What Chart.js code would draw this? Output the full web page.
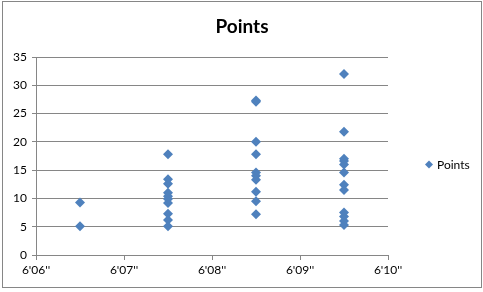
<!DOCTYPE html>
<html>
<head>
<meta charset="utf-8">
<script src="https://cdn.jsdelivr.net/npm/chart.js@4/dist/chart.umd.min.js"></script>
<style>
  html, body { margin: 0; padding: 0; background: #fff; }
  #wrap { position: relative; width: 483px; height: 292px; }
</style>
</head>
<body>
<div id="wrap"><canvas id="chartPoints" width="483" height="292"></canvas></div>
<script>
// x positions (inches above 6'), one per group of points
const heights = [6.5, 7.5, 8.5, 9.5];
const pts6 = [9.3, 5.1];
const pts7 = [17.8, 13.4, 12.6, 11.0, 10.4, 9.9, 9.2, 7.3, 6.2, 5.1];
const pts8 = [27.3, 27.1, 20.0, 17.8, 14.6, 14.0, 13.3, 11.2, 9.5, 7.2];
const pts9 = [32.0, 21.8, 17.0, 16.6, 16.0, 14.6, 12.4, 11.5, 7.5, 6.8, 6.0, 5.3];
const groups = [pts6, pts7, pts8, pts9];
const xTickLabels = ["6'06''", "6'07''", "6'08''", "6'09''", "6'10''"];
const yTicks = [0, 5, 10, 15, 20, 25, 30, 35];
const chartTitle = "Points";

const blue = "#4F81BD";
const gray = "#868686";
const font = "Lato, 'Open Sans', sans-serif";

const scatterData = [];
groups.forEach((g, i) => {
  g.forEach(v => scatterData.push({ x: heights[i], y: v }));
});

// frame, title and right legend drawn by hand, Excel style
const framePlugin = {
  id: "frame",
  beforeDraw(chart){
    const c = chart.ctx;
    c.save();
    c.fillStyle = "#fff";
    c.fillRect(0, 0, chart.width, chart.height);
    c.strokeStyle = gray;
    c.lineWidth = 1;
    c.strokeRect(2.5, 1.5, 479, 286);
    c.restore();
  },
  afterDraw(chart){
    const c = chart.ctx;
    c.save();
    // title, centred on the whole frame
    c.fillStyle = "#000";
    c.font = "bold 19px " + font;
    c.textAlign = "center";
    c.textBaseline = "middle";
    c.fillText(chartTitle, 242, 27);
    // legend
    c.fillStyle = blue;
    c.beginPath();
    c.moveTo(429, 160.5);
    c.lineTo(433, 164.5);
    c.lineTo(429, 168.5);
    c.lineTo(425, 164.5);
    c.closePath();
    c.fill();
    c.fillStyle = "#000";
    c.font = "12px " + font;
    c.textAlign = "left";
    c.fillText(chart.data.datasets[0].label, 437, 165);
    c.restore();
  }
};

new Chart(document.getElementById("chartPoints"), {
  type: "scatter",
  data: {
    datasets: [{
      label: "Points",
      data: scatterData,
      pointStyle: "rectRot",
      pointRadius: 5,
      pointHoverRadius: 5,
      backgroundColor: blue,
      borderColor: blue,
      borderWidth: 0
    }]
  },
  options: {
    responsive: false,
    animation: false,
    devicePixelRatio: 1,
    layout: { padding: { left: 4, right: 95, top: 57, bottom: 0 } },
    plugins: {
      legend: { display: false },
      tooltip: { enabled: false },
      title: { display: false }
    },
    scales: {
      x: {
        type: "linear",
        min: 6, max: 10,
        afterFit(s){ s.height = 37; },
        ticks: {
          stepSize: 1,
          color: "#000",
          font: { family: font, size: 12 },
          padding: 3,
          maxRotation: 0,
          callback: v => xTickLabels[v - 6]
        },
        grid: { drawOnChartArea: false, color: gray, tickLength: 5 },
        border: { color: gray }
      },
      y: {
        min: 0, max: 35,
        afterFit(s){ s.width = 32; },
        afterBuildTicks(s){ s.ticks = yTicks.map(v => ({ value: v })); },
        ticks: {
          color: "#000",
          font: { family: font, size: 12 },
          padding: 5
        },
        grid: { color: gray, tickLength: 4 },
        border: { color: gray }
      }
    }
  },
  plugins: [framePlugin]
});
</script>
</body>
</html>
